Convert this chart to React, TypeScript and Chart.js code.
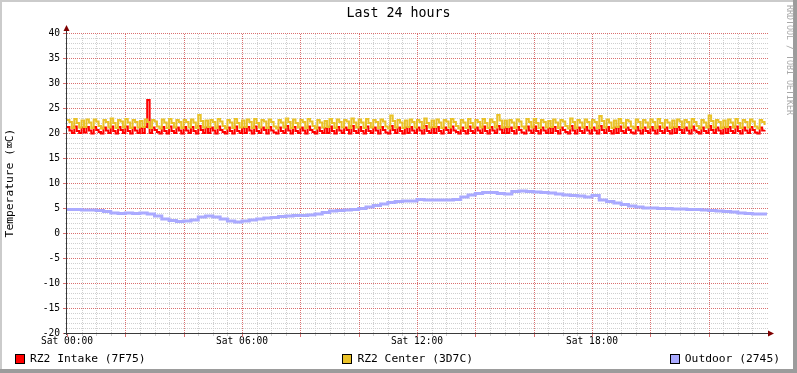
import React, { useEffect, useRef } from 'react';
import { Chart, registerables } from 'chart.js';

Chart.register(...registerables);

// ---------- data ----------
const chartTitle = 'Last 24 hours';
const yAxisTitle = 'Temperature (\u2327C)';
const watermark = 'RRDTOOL / TOBI OETIKER';

const seriesNames = ['RZ2 Intake (7F75)', 'RZ2 Center (3D7C)', 'Outdoor (2745)'];
const seriesColors = ['#FF0000', '#EAC228', '#AAAAFF'];

const xTickHours = [0, 6, 12, 18];
const xTickLabels = ['Sat 00:00', 'Sat 06:00', 'Sat 12:00', 'Sat 18:00'];

// 5-minute samples (hours per sample)
const fastStepHours = 5 / 60;
// 15-minute samples
const slowStepHours = 0.25;

const intake = [
  21.2,20.5,20.0,21.3,20.4,20.0,21.1,20.1,21.2,20.5,19.9,21.2,20.6,20.2,19.9,21.1,20.5,20.0,21.3,20.4,19.9,21.2,20.6,20.0,
  21.3,20.4,19.9,21.1,20.5,20.0,21.0,20.0,21.2,26.6,20.0,21.1,20.6,20.2,19.9,21.2,20.4,19.9,21.3,20.4,20.0,21.1,20.5,19.9,
  21.2,20.5,20.0,21.2,20.4,19.9,21.4,20.6,20.0,21.1,20.0,21.1,20.5,19.9,21.3,20.6,20.2,19.9,21.1,20.4,19.9,21.3,20.4,20.0,
  21.1,20.0,21.2,20.5,19.9,21.3,20.4,20.0,21.1,20.6,19.9,21.2,20.5,20.1,19.9,21.1,20.4,20.0,21.4,20.5,19.9,21.2,20.4,20.0,
  21.1,20.5,19.9,21.3,20.6,20.2,19.9,21.1,20.4,20.0,21.0,20.0,21.3,20.4,19.9,21.2,20.5,20.0,21.1,20.6,19.9,21.4,20.4,20.0,
  21.2,20.4,19.9,21.3,20.4,20.0,21.1,20.5,19.9,21.2,20.6,20.1,19.9,21.4,20.6,20.0,21.1,20.4,19.9,21.1,20.0,21.2,20.5,20.0,
  21.1,20.5,19.9,21.4,20.4,20.0,21.1,20.0,21.2,20.4,19.9,21.1,20.6,20.0,21.3,20.5,20.2,19.9,21.1,20.4,19.9,21.3,20.4,20.0,
  21.1,20.5,20.0,21.3,20.4,19.9,21.2,20.5,20.0,21.4,20.7,20.0,21.1,20.0,21.1,20.4,19.9,21.2,20.6,20.1,19.9,21.3,20.5,20.0,
  21.3,20.4,19.9,21.1,20.5,20.0,21.0,20.0,21.2,20.4,19.9,21.1,20.6,20.2,19.9,21.4,20.5,19.9,21.1,20.4,20.0,21.2,20.5,19.9,
  21.1,20.5,19.9,21.4,20.6,20.0,21.2,20.4,19.9,21.1,20.0,21.3,20.4,20.0,21.1,20.6,20.1,19.9,21.2,20.5,19.9,21.1,20.4,20.0,
  21.2,20.5,19.9,21.3,20.4,20.0,21.1,20.4,19.9,21.1,20.0,21.2,20.6,20.0,21.1,20.5,19.9,21.3,20.5,20.2,19.9,21.1,20.4,20.0,
  21.4,20.6,20.0,21.1,20.5,19.9,21.1,20.0,21.2,20.4,20.0,21.3,20.4,19.9,21.1,20.5,20.0,21.2,20.6,20.1,19.9,21.1,20.5,20.6,
];

const centerTemp = [
  22.6,22.2,21.0,22.8,22.0,21.1,22.5,21.2,22.7,22.1,21.0,22.7,22.3,21.4,20.9,22.6,22.2,21.1,22.9,22.0,21.0,22.6,22.3,21.1,
  22.8,22.1,21.0,22.6,22.2,21.1,22.4,21.2,22.7,22.2,21.0,22.6,22.3,21.3,20.9,22.7,22.1,21.0,22.8,22.0,21.1,22.6,22.2,21.0,
  22.6,22.2,21.1,22.7,22.1,21.0,23.6,22.4,21.1,22.5,21.2,22.6,22.2,21.0,22.8,22.3,21.4,20.9,22.6,22.1,21.0,22.8,22.0,21.1,
  22.5,21.2,22.7,22.2,21.0,22.8,22.0,21.1,22.6,22.3,21.0,22.7,22.2,21.3,20.9,22.6,22.1,21.1,22.9,22.2,21.0,22.7,22.0,21.1,
  22.6,22.2,21.0,22.8,22.3,21.4,20.9,22.6,22.1,21.1,22.4,21.2,22.8,22.0,21.0,22.7,22.2,21.1,22.6,22.3,21.0,22.9,22.1,21.1,
  22.7,22.1,21.0,22.8,22.0,21.1,22.6,22.2,21.0,22.7,22.3,21.3,20.9,23.5,22.4,21.1,22.6,22.1,21.0,22.5,21.2,22.7,22.2,21.1,
  22.6,22.2,21.0,22.9,22.0,21.1,22.5,21.2,22.7,22.1,21.0,22.6,22.3,21.1,22.8,22.2,21.4,20.9,22.6,22.1,21.0,22.8,22.0,21.1,
  22.6,22.2,21.1,22.8,22.0,21.0,22.7,22.2,21.1,23.6,22.5,21.1,22.5,21.2,22.6,22.1,21.0,22.7,22.3,21.3,20.9,22.8,22.2,21.1,
  22.8,22.0,21.0,22.6,22.2,21.1,22.4,21.2,22.7,22.1,21.0,22.6,22.3,21.4,20.9,22.9,22.2,21.0,22.6,22.1,21.1,22.7,22.2,21.0,
  22.6,22.2,21.0,23.4,22.4,21.1,22.7,22.1,21.0,22.5,21.2,22.8,22.0,21.1,22.6,22.3,21.3,20.9,22.7,22.2,21.0,22.6,22.1,21.1,
  22.7,22.2,21.0,22.8,22.0,21.1,22.6,22.1,21.0,22.5,21.2,22.7,22.3,21.1,22.6,22.2,21.0,22.8,22.2,21.4,20.9,22.6,22.1,21.1,
  23.5,22.4,21.1,22.6,22.2,21.0,22.5,21.2,22.7,22.1,21.1,22.8,22.0,21.0,22.6,22.2,21.1,22.7,22.3,21.3,20.9,22.6,22.2,21.6,
];

const outdoor = [
  4.7,4.7,4.6,4.6,4.5,4.3,4.0,3.9,4.0,3.9,4.0,3.8,
  3.4,2.8,2.5,2.3,2.4,2.6,3.2,3.4,3.2,2.8,2.4,2.2,
  2.4,2.6,2.8,3.0,3.1,3.3,3.4,3.5,3.5,3.6,3.8,4.1,
  4.4,4.5,4.6,4.7,4.9,5.2,5.5,5.8,6.1,6.3,6.4,6.4,
  6.7,6.6,6.6,6.6,6.6,6.7,7.2,7.6,7.9,8.1,8.1,7.9,
  7.8,8.3,8.4,8.3,8.2,8.1,8.0,7.8,7.6,7.5,7.4,7.2,
  7.5,6.6,6.3,6.0,5.7,5.4,5.2,5.0,5.0,4.9,4.9,4.8,
  4.8,4.7,4.7,4.6,4.5,4.4,4.3,4.2,4.0,3.9,3.8,3.8,
  4.0,
];

const yMin = -20;
const yMax = 40;
const yMajorEvery = 5;
const xMin = 0;
const xMax = 24;
const xMajorEvery = 2;

// ---------- styles ----------
const MONO = "'DejaVu Sans Mono', monospace";
const MAJOR_GRID = '#DA7070';
const MINOR_GRID = '#CFCFCF';
const AXIS_COLOR = '#3a3a3a';
const ARROW_COLOR = '#7F0000';

const toPoints = (vals: number[], step: number) => vals.map((v, i) => ({ x: i * step, y: v }));

const isMultiple = (v: number, m: number) => Math.abs(v / m - Math.round(v / m)) < 1e-6;

const rrdGrid = {
  id: 'rrdGrid',
  beforeDatasetsDraw(chart: any) {
    const { ctx } = chart;
    const { left, right, top, bottom } = chart.chartArea;
    const xs = chart.scales.x;
    const ys = chart.scales.y;
    ctx.save();
    ctx.lineWidth = 1;
    const pass = (major: boolean) => {
      ctx.strokeStyle = major ? MAJOR_GRID : MINOR_GRID;
      ctx.setLineDash([1, 1]);
      ctx.beginPath();
      for (const t of ys.ticks) {
        if (t.value <= yMin) continue;
        if (isMultiple(t.value, yMajorEvery) !== major) continue;
        const py = Math.round(ys.getPixelForValue(t.value)) + 0.5;
        ctx.moveTo(left, py);
        ctx.lineTo(right + 1, py);
      }
      for (const t of xs.ticks) {
        if (t.value <= xMin || t.value >= xMax) continue;
        if (isMultiple(t.value, xMajorEvery) !== major) continue;
        const px = Math.round(xs.getPixelForValue(t.value)) + 0.5;
        ctx.moveTo(px, bottom);
        ctx.lineTo(px, top);
      }
      ctx.stroke();
      // tick marks outside the axes
      ctx.setLineDash([]);
      ctx.beginPath();
      for (const t of ys.ticks) {
        if (isMultiple(t.value, yMajorEvery) !== major) continue;
        const py = Math.round(ys.getPixelForValue(t.value)) + 0.5;
        ctx.moveTo(left - (major ? 4 : 2), py);
        ctx.lineTo(left, py);
      }
      for (const t of xs.ticks) {
        if (t.value >= xMax) continue;
        if (isMultiple(t.value, xMajorEvery) !== major) continue;
        const px = Math.round(xs.getPixelForValue(t.value)) + 0.5;
        ctx.moveTo(px, bottom + 1);
        ctx.lineTo(px, bottom + (major ? 4 : 3));
      }
      ctx.stroke();
    };
    pass(false);
    pass(true);
    ctx.restore();
  },
};

const rrdDecor = {
  id: 'rrdDecor',
  beforeDraw(chart: any) {
    const { ctx, width, height } = chart;
    ctx.save();
    ctx.fillStyle = '#FFFFFF';
    ctx.fillRect(0, 0, width, height);
    ctx.fillStyle = '#CBCBCB';
    ctx.fillRect(0, 0, width, 2);
    ctx.fillRect(0, 0, 2, height);
    ctx.fillStyle = '#9C9C9C';
    ctx.fillRect(0, height - 4, width, 4);
    ctx.fillRect(width - 4, 0, 4, height);
    ctx.restore();
  },
  afterDraw(chart: any) {
    const { ctx, width } = chart;
    const { left, right, top, bottom } = chart.chartArea;
    ctx.save();
    ctx.strokeStyle = AXIS_COLOR;
    ctx.lineWidth = 1;
    ctx.beginPath();
    ctx.moveTo(left - 0.5, bottom + 2);
    ctx.lineTo(left - 0.5, top - 3);
    ctx.moveTo(left - 3, bottom + 0.5);
    ctx.lineTo(right + 2, bottom + 0.5);
    ctx.stroke();
    ctx.fillStyle = ARROW_COLOR;
    ctx.beginPath();
    ctx.moveTo(left - 0.5, top - 8);
    ctx.lineTo(left - 3.5, top - 2);
    ctx.lineTo(left + 2.5, top - 2);
    ctx.closePath();
    ctx.fill();
    ctx.beginPath();
    ctx.moveTo(right + 7, bottom + 0.5);
    ctx.lineTo(right + 1, bottom - 2.5);
    ctx.lineTo(right + 1, bottom + 3.5);
    ctx.closePath();
    ctx.fill();
    // watermark
    ctx.translate(width - 8, 5);
    ctx.rotate(Math.PI / 2);
    ctx.fillStyle = '#A8A8A8';
    ctx.font = `8.3px ${MONO}`;
    ctx.textBaseline = 'middle';
    ctx.textAlign = 'left';
    ctx.fillText(watermark, 0, 0);
    ctx.restore();
  },
};

export default function App() {
  const canvasRef = useRef<HTMLCanvasElement | null>(null);

  useEffect(() => {
    document.body.style.margin = '0';
    const canvas = canvasRef.current;
    if (!canvas) return;
    const tickFont = { family: MONO, size: 9.6 };
    const chart = new Chart(canvas, {
      type: 'line',
      data: {
        datasets: [
          {
            label: seriesNames[0],
            data: toPoints(intake, fastStepHours),
            borderColor: seriesColors[0],
            backgroundColor: seriesColors[0],
            borderWidth: 2,
            stepped: true,
            pointRadius: 0,
            fill: false,
            order: 3,
          },
          {
            label: seriesNames[1],
            data: toPoints(centerTemp, fastStepHours),
            borderColor: seriesColors[1],
            backgroundColor: seriesColors[1],
            borderWidth: 2,
            stepped: true,
            pointRadius: 0,
            fill: false,
            order: 2,
          },
          {
            label: seriesNames[2],
            data: toPoints(outdoor, slowStepHours),
            borderColor: seriesColors[2],
            backgroundColor: seriesColors[2],
            borderWidth: 3,
            stepped: true,
            pointRadius: 0,
            fill: false,
            order: 1,
          },
        ],
      },
      options: {
        animation: false,
        responsive: false,
        devicePixelRatio: 1,
        events: [],
        layout: { padding: { top: 33, right: 30, bottom: 26, left: 0 } },
        plugins: {
          legend: { display: false },
          title: { display: false },
          tooltip: { enabled: false },
        },
        scales: {
          x: {
            type: 'linear',
            min: xMin,
            max: xMax,
            afterFit: (s: any) => { s.height = 14; },
            ticks: {
              stepSize: 0.5,
              autoSkip: false,
              maxRotation: 0,
              minRotation: 0,
              padding: 3,
              color: '#000',
              font: tickFont,
              callback: (v: any) => {
                const i = xTickHours.indexOf(Number(v));
                return i >= 0 ? xTickLabels[i] : '';
              },
            },
            grid: { display: false, drawTicks: false },
            border: { display: false },
          },
          y: {
            type: 'linear',
            min: yMin,
            max: yMax,
            afterFit: (s: any) => { s.width = 67; },
            ticks: {
              stepSize: 1,
              autoSkip: false,
              padding: 7,
              color: '#000',
              font: tickFont,
              callback: (v: any) => (Number(v) % 5 === 0 ? String(v) : ''),
            },
            grid: { display: false, drawTicks: false },
            border: { display: false },
            title: {
              display: true,
              text: yAxisTitle,
              color: '#000',
              font: { family: MONO, size: 11.3 },
              padding: { top: 3, bottom: 0 },
            },
          },
        },
      },
      plugins: [rrdDecor, rrdGrid],
    } as any);
    return () => chart.destroy();
  }, []);

  const legendText: React.CSSProperties = {
    fontFamily: MONO,
    fontSize: '11.3px',
    color: '#000',
    whiteSpace: 'pre',
  };

  return (
    <div style={{ position: 'relative', width: 797, height: 373, overflow: 'hidden' }}>
      <canvas ref={canvasRef} width={797} height={373} style={{ display: 'block' }} />
      <div
        style={{
          position: 'absolute',
          top: 5,
          left: 0,
          width: 797,
          textAlign: 'center',
          fontFamily: MONO,
          fontSize: '13.3px',
          lineHeight: '16px',
          color: '#000',
        }}
      >
        {chartTitle}
      </div>
      <div
        style={{
          position: 'absolute',
          top: 351,
          left: 15,
          right: 17,
          height: 15,
          display: 'flex',
          justifyContent: 'space-between',
          alignItems: 'center',
        }}
      >
        {seriesNames.map((name, i) => (
          <div key={name} style={{ display: 'flex', alignItems: 'center', lineHeight: '15px' }}>
            <span
              style={{
                display: 'inline-block',
                width: 8,
                height: 8,
                border: '1px solid #000',
                background: seriesColors[i],
                marginRight: 5,
              }}
            />
            <span style={legendText}>{name}</span>
          </div>
        ))}
      </div>
    </div>
  );
}
